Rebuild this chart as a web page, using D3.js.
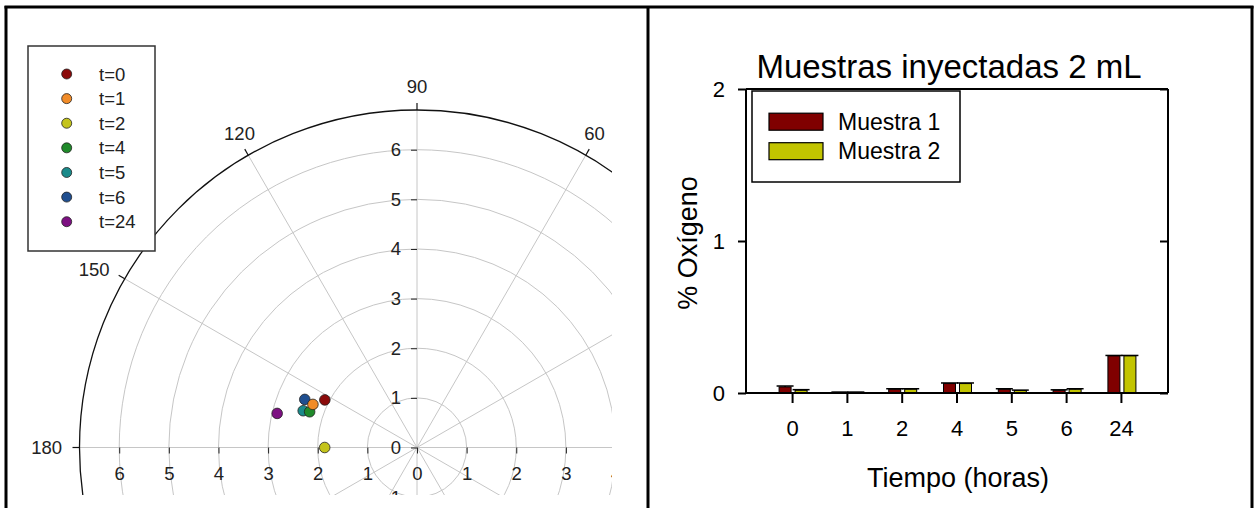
<!DOCTYPE html>
<html><head><meta charset="utf-8">
<script src="https://cdn.jsdelivr.net/npm/d3@7"></script>
<style>
body{margin:0;background:#fff;}
svg{display:block;font-family:"Liberation Sans",Arial,sans-serif;}
</style></head><body>
<svg id="fig" width="1254" height="508"></svg>
<script>
// ---- Polar plot: hue angle (degrees) and chroma for each sampling time ----
const tiempos = ['t=0', 't=1', 't=2', 't=4', 't=5', 't=6', 't=24'];
const hue = [152.7, 157.5, 180.0, 161.6, 162.1, 156.8, 166.3];
const chroma = [2.09, 2.27, 1.86, 2.28, 2.41, 2.46, 2.90];
const colores = ['#8b0a0a', '#f28c28', '#c4c41c', '#1f8a2a', '#1a8a8a', '#1f4e8f', '#7d1082'];
const anguloTicks = [0, 30, 60, 90, 120, 150, 180, 210, 240, 270, 300, 330];
const anillos = [1, 2, 3, 4, 5, 6];
const radioTicks = [-6, -5, -4, -3, -2, -1, 0, 1, 2, 3, 4, 5, 6];

// ---- Bar chart: % oxygen per sampling time ----
const horas = ['0', '1', '2', '4', '5', '6', '24'];
const muestra1 = [0.040, 0.004, 0.025, 0.062, 0.025, 0.018, 0.245];
const muestra2 = [0.018, 0.004, 0.025, 0.062, 0.016, 0.025, 0.245];
const error1 = [0.006, 0.002, 0.003, 0.004, 0.003, 0.003, 0.002];
const error2 = [0.004, 0.002, 0.003, 0.004, 0.003, 0.003, 0.002];
const seriesNombres = ['Muestra 1', 'Muestra 2'];
const seriesColores = ['#800000', '#c2c400'];
const oxTicks = [0, 1, 2];

const svg = d3.select('#fig');
const FONT = '"Liberation Sans",Arial,sans-serif';

// outer frame and panel divider
const frame = svg.append('g').attr('stroke', '#000').attr('stroke-width', 3);
frame.append('line').attr('x1', 6).attr('x2', 6).attr('y1', 6).attr('y2', 508);
frame.append('line').attr('x1', 1252).attr('x2', 1252).attr('y1', 6).attr('y2', 508);
frame.append('line').attr('x1', 4.5).attr('x2', 1253.5).attr('y1', 7).attr('y2', 7);
frame.append('line').attr('x1', 648).attr('x2', 648).attr('y1', 6).attr('y2', 508);

// ================= Polar panel =================
const CLIP = { x0: 8, y0: 9, x1: 612, y1: 495 };
svg.append('defs').append('clipPath').attr('id', 'polarClip')
  .append('rect').attr('x', CLIP.x0).attr('y', CLIP.y0)
  .attr('width', CLIP.x1 - CLIP.x0).attr('height', CLIP.y1 - CLIP.y0);

const cx = 417, cy = 447.5, R = 337.5;
const rs = d3.scaleLinear().domain([0, 6.8]).range([0, R]);
const rad = d => d * Math.PI / 180;
const px = (r, a) => cx + r * Math.cos(rad(a));
const py = (r, a) => cy - r * Math.sin(rad(a));

const pg = svg.append('g').attr('clip-path', 'url(#polarClip)');

pg.selectAll('circle.ring').data(anillos).join('circle')
  .attr('class', 'ring')
  .attr('cx', cx).attr('cy', cy).attr('r', d => rs(d))
  .attr('fill', 'none').attr('stroke', '#c6c6c6').attr('stroke-width', 1);

pg.selectAll('line.spoke').data(anguloTicks).join('line')
  .attr('class', 'spoke')
  .attr('x1', cx).attr('y1', cy)
  .attr('x2', d => px(R, d)).attr('y2', d => py(R, d))
  .attr('stroke', '#c6c6c6').attr('stroke-width', 1);

pg.append('circle').attr('cx', cx).attr('cy', cy).attr('r', R)
  .attr('fill', 'none').attr('stroke', '#111').attr('stroke-width', 1.3);

pg.selectAll('line.atick').data(anguloTicks).join('line')
  .attr('class', 'atick')
  .attr('x1', d => px(R, d)).attr('y1', d => py(R, d))
  .attr('x2', d => px(R + 7, d)).attr('y2', d => py(R + 7, d))
  .attr('stroke', '#111').attr('stroke-width', 1.2);

// angle labels outside the outer circle, only those inside the visible area
const LR = 355;
const visibles = anguloTicks.filter(a => {
  const x = px(LR, a), y = py(LR, a);
  return x > 20 && x < 605 && y > 20 && y < 490;
});
pg.selectAll('text.alabel').data(visibles).join('text')
  .attr('class', 'alabel')
  .attr('x', d => px(LR, d)).attr('y', d => py(LR, d))
  .attr('text-anchor', d => {
    const c = Math.cos(rad(d));
    return c > 0.7 ? 'start' : (c < -0.7 ? 'end' : 'middle');
  })
  .attr('dy', d => Math.abs(Math.cos(rad(d))) > 0.7 ? '0.35em' : '0em')
  .attr('font-size', 18.5).attr('fill', '#222')
  .text(d => d);

// radial scales along the horizontal and vertical diameters
const xr = d3.scaleLinear().domain([-6.8, 6.8]).range([cx - R, cx + R]);
const yr = d3.scaleLinear().domain([-6.8, 6.8]).range([cy + R, cy - R]);
// keep only the ticks that fall (at least partly) inside the visible area
const ticksH = radioTicks.filter(v => xr(v) - 6 < CLIP.x1 && xr(v) + 6 > CLIP.x0);
const ticksV = radioTicks.filter(v => yr(v) - 7 < CLIP.y1 && yr(v) + 7 > CLIP.y0);

const axH = pg.append('g').attr('transform', `translate(0,${cy})`)
  .call(d3.axisBottom(xr).tickValues(ticksH).tickFormat(d => Math.abs(d)).tickSize(6).tickPadding(13));
const axV = pg.append('g').attr('transform', `translate(${cx},0)`)
  .call(d3.axisLeft(yr).tickValues(ticksV).tickFormat(d => Math.abs(d)).tickSize(6).tickPadding(10));
[axH, axV].forEach(ax => {
  ax.attr('font-family', FONT).attr('font-size', 18.5);
  ax.select('.domain').remove();
  ax.selectAll('line').attr('stroke', '#222');
  ax.selectAll('text').attr('fill', '#222');
});

// data points (later times drawn first)
const puntos = d3.range(tiempos.length).reverse();
pg.selectAll('circle.pt').data(puntos).join('circle')
  .attr('class', 'pt')
  .attr('cx', i => px(rs(chroma[i]), hue[i]))
  .attr('cy', i => py(rs(chroma[i]), hue[i]))
  .attr('r', 5.3)
  .attr('fill', i => colores[i])
  .attr('stroke', '#222').attr('stroke-width', 0.8);

// legend of the polar panel
const lg = svg.append('g');
lg.append('rect').attr('x', 28).attr('y', 46).attr('width', 127).attr('height', 205)
  .attr('fill', '#fff').attr('stroke', '#333').attr('stroke-width', 1.5);
const ly = d3.scalePoint().domain(tiempos).range([74, 221.7]);
lg.selectAll('circle').data(tiempos).join('circle')
  .attr('cx', 66.7).attr('cy', d => ly(d)).attr('r', 5)
  .attr('fill', (d, i) => colores[i]).attr('stroke', '#222').attr('stroke-width', 0.8);
lg.selectAll('text').data(tiempos).join('text')
  .attr('x', 99).attr('y', d => ly(d) + 6.6)
  .attr('font-size', 18.5).attr('fill', '#222')
  .text(d => d);

// ================= Bar chart panel =================
const X0 = 746, X1 = 1168, Y0 = 393, Y1 = 89;
const x = d3.scaleBand().domain(horas).range([X0, X1]).paddingOuter(0.35).paddingInner(0);
const xs = d3.scaleBand().domain(seriesNombres).range([-13.5, 14.5]).paddingInner(0.25);
const y = d3.scaleLinear().domain([0, 2]).range([Y0, Y1]);
const valores = [muestra1, muestra2];
const errores = [error1, error2];

const bg = svg.append('g');

// bars
seriesNombres.forEach((s, k) => {
  bg.append('g').selectAll('rect').data(horas).join('rect')
    .attr('x', (h) => x(h) + x.bandwidth() / 2 + xs(s))
    .attr('width', xs.bandwidth())
    .attr('y', (h, i) => y(valores[k][i]))
    .attr('height', (h, i) => Y0 - y(valores[k][i]))
    .attr('fill', seriesColores[k])
    .attr('stroke', '#000').attr('stroke-width', 1);
});
// error bar caps
seriesNombres.forEach((s, k) => {
  const eg = bg.append('g').attr('stroke', '#000').attr('stroke-width', 1.5);
  horas.forEach((h, i) => {
    const c = x(h) + x.bandwidth() / 2 + xs(s) + xs.bandwidth() / 2;
    const top = y(valores[k][i] + errores[k][i]);
    eg.append('line').attr('x1', c).attr('x2', c).attr('y1', y(valores[k][i])).attr('y2', top);
    eg.append('line').attr('x1', c - 8.5).attr('x2', c + 8.5).attr('y1', top).attr('y2', top);
  });
});

// axes
const axX = bg.append('g').attr('transform', `translate(0,${Y0})`)
  .call(d3.axisBottom(x).tickSize(10).tickPadding(17).tickSizeOuter(0));
const axY = bg.append('g').attr('transform', `translate(${X0},0)`)
  .call(d3.axisLeft(y).tickValues(oxTicks).tickFormat(d3.format('d')).tickSize(8).tickPadding(13).tickSizeOuter(0));
const axR = bg.append('g').attr('transform', `translate(${X1},0)`)
  .call(d3.axisLeft(y).tickValues(oxTicks).tickFormat('').tickSize(8).tickSizeOuter(0));
[axX, axY, axR].forEach(ax => {
  ax.attr('font-family', FONT).attr('font-size', 22);
  ax.select('.domain').remove();
  ax.selectAll('line').attr('stroke', '#000').attr('stroke-width', 2);
  ax.selectAll('text').attr('fill', '#000');
});

// plot frame
const fr = bg.append('g').attr('stroke', '#000').attr('stroke-width', 2).attr('fill', 'none');
fr.append('line').attr('x1', X0).attr('x2', X1).attr('y1', Y0).attr('y2', Y0);
fr.append('line').attr('x1', X0).attr('x2', X0).attr('y1', Y1).attr('y2', Y0);
fr.append('line').attr('x1', X0).attr('x2', X1).attr('y1', Y1).attr('y2', Y1);
fr.append('line').attr('x1', X1).attr('x2', X1).attr('y1', Y1).attr('y2', Y0);

// titles
bg.append('text').attr('x', 949).attr('y', 78).attr('text-anchor', 'middle')
  .attr('font-size', 33).attr('fill', '#000').text('Muestras inyectadas 2 mL');
bg.append('text').attr('x', 958).attr('y', 487).attr('text-anchor', 'middle')
  .attr('font-size', 27).attr('fill', '#000').text('Tiempo (horas)');
bg.append('text').attr('transform', 'translate(697,243) rotate(-90)').attr('text-anchor', 'middle')
  .attr('font-size', 27).attr('fill', '#000').text('% Oxígeno');

// legend of the bar chart
const bl = svg.append('g');
bl.append('rect').attr('x', 752).attr('y', 91).attr('width', 208).attr('height', 91)
  .attr('fill', '#fff').attr('stroke', '#000').attr('stroke-width', 1.5);
const bly = d3.scalePoint().domain(seriesNombres).range([121.7, 151.2]);
bl.selectAll('rect.sw').data(seriesNombres).join('rect')
  .attr('class', 'sw')
  .attr('x', 769).attr('y', d => bly(d) - 8.5).attr('width', 54).attr('height', 17)
  .attr('fill', (d, i) => seriesColores[i]).attr('stroke', '#000').attr('stroke-width', 1.2);
bl.selectAll('text').data(seriesNombres).join('text')
  .attr('x', 838).attr('y', d => bly(d) + 8.2)
  .attr('font-size', 23).attr('fill', '#000')
  .text(d => d);
</script>
</body></html>
